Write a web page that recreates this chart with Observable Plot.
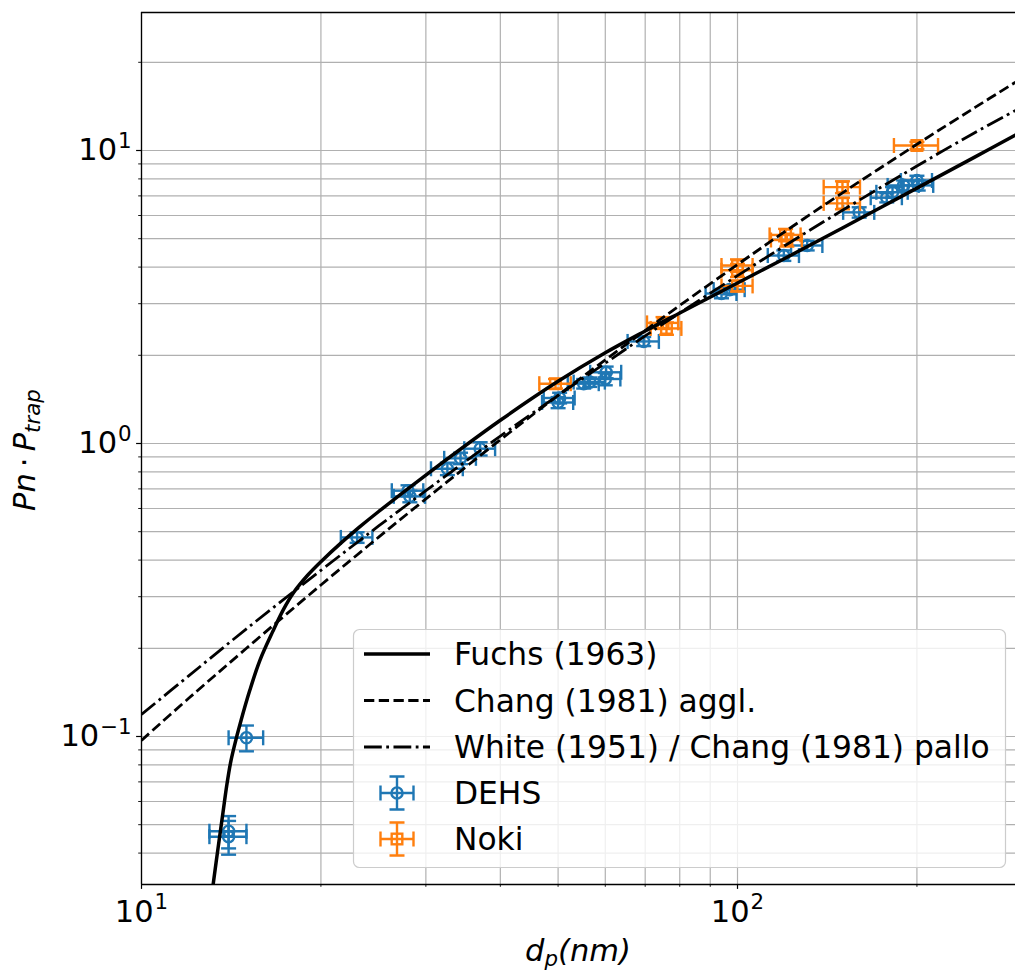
<!DOCTYPE html>
<html>
<head>
<meta charset="utf-8">
<script src="https://cdn.jsdelivr.net/npm/d3@7"></script>
<script src="https://cdn.jsdelivr.net/npm/@observablehq/plot@0.6"></script>
<style>
  html, body { margin: 0; padding: 0; background: #fff; }
  #chart svg { display: block; }
</style>
</head>
<body>
<div id="chart"></div>
<script>
// ---- Measurements: DEHS droplets (diameter nm, Pn·Ptrap, and their errors) ----
const dehsDiameter    = [15.0, 14.0, 14.0, 23.0, 28.0, 28.2, 32.6, 34.3, 37.0, 50.0, 50.3, 55.2, 56.5, 60.0, 60.2, 69.6, 94.0, 97.0, 119.6, 130.9, 160, 178, 182, 190, 200, 201];
const dehsValue       = [0.099, 0.0475, 0.0455, 0.478, 0.69, 0.66, 0.82, 0.89, 0.96, 1.38, 1.43, 1.60, 1.62, 1.66, 1.75, 2.23, 3.25, 3.35, 4.38, 4.74, 6.15, 6.9, 7.2, 7.6, 7.9, 7.6];
const dehsDiameterErr = [1.0, 1.0, 1.0, 1.4, 1.7, 1.7, 2.0, 2.1, 2.2, 3.0, 3.0, 3.3, 3.4, 3.6, 3.6, 4.2, 5.6, 5.8, 7.2, 7.9, 9.6, 10.7, 11, 11.4, 12, 12];
const dehsValueErr    = [0.010, 0.006, 0.006, 0.02, 0.03, 0.03, 0.04, 0.04, 0.05, 0.06, 0.06, 0.06, 0.06, 0.08, 0.08, 0.08, 0.12, 0.12, 0.18, 0.18, 0.25, 0.25, 0.3, 0.3, 0.3, 0.3];

// ---- Measurements: Noki particles ----
const nokiDiameter    = [49.5, 75.0, 76.0, 100, 100, 100, 120.4, 121, 150, 150, 200];
const nokiValue       = [1.60, 2.58, 2.47, 4.05, 3.90, 3.45, 5.15, 4.95, 7.5, 6.6, 10.4];
const nokiDiameterErr = [3.0, 4.5, 4.5, 6, 6, 6, 7.2, 7.2, 10.5, 10.5, 17];
const nokiValueErr    = [0.06, 0.12, 0.12, 0.2, 0.2, 0.15, 0.25, 0.25, 0.35, 0.3, 0.3];

// ---- Model curves ----
const fuchsDiameter = [13.19, 13.45, 13.7, 13.9, 14.1, 14.3, 14.7, 15.2, 15.8, 16.6, 17.3, 18.0, 19.0, 20.0, 21.6, 23.2, 25, 30, 40, 50, 60, 70, 80, 100, 120, 150, 200, 250, 292.7];
const fuchsValue    = [0.0313, 0.042, 0.055, 0.068, 0.081, 0.092, 0.114, 0.144, 0.182, 0.228, 0.271, 0.310, 0.355, 0.395, 0.457, 0.518, 0.586, 0.780, 1.20, 1.63, 2.04, 2.42, 2.79, 3.53, 4.28, 5.44, 7.44, 9.49, 11.3];

const modelDiameter = [10, 12, 15, 20, 25, 30, 40, 50, 60, 70, 80, 100, 120, 150, 200, 250, 292.7];
const changValue    = [0.097, 0.135, 0.200, 0.329, 0.479, 0.647, 1.03, 1.46, 1.93, 2.43, 2.96, 4.08, 5.28, 7.17, 10.5, 14.0, 17.1];
const whiteValue    = [0.119, 0.161, 0.233, 0.369, 0.523, 0.690, 1.06, 1.46, 1.88, 2.33, 2.79, 3.74, 4.73, 6.25, 8.85, 11.5, 13.7];

// ---- Axes: tick values and labels ----
const xMajorTicks = [10, 100];
const xMajorExp   = ["1", "2"];
const xMinorTicks = [20, 30, 40, 50, 60, 70, 80, 90, 200];
const yMajorTicks = [0.1, 1, 10];
const yMajorExp   = ["\u22121", "0", "1"];
const yMinorTicks = [0.04, 0.05, 0.06, 0.07, 0.08, 0.09, 0.2, 0.3, 0.4, 0.5, 0.6, 0.7, 0.8, 0.9, 2, 3, 4, 5, 6, 7, 8, 9, 20];

const legendLabels = ["Fuchs (1963)", "Chang (1981) aggl.", "White (1951) / Chang (1981) pallo", "DEHS", "Noki"];

// ---- Build tables ----
const zipSeries = (d, v, de, ve) => d.map((x, i) => ({d: x, v: v[i], de: de[i], ve: ve[i]}));
const dehs = zipSeries(dehsDiameter, dehsValue, dehsDiameterErr, dehsValueErr);
const noki = zipSeries(nokiDiameter, nokiValue, nokiDiameterErr, nokiValueErr);
const fuchs = fuchsDiameter.map((d, i) => ({d, v: fuchsValue[i]}));
const chang = modelDiameter.map((d, i) => ({d, v: changValue[i]}));
const white = modelDiameter.map((d, i) => ({d, v: whiteValue[i]}));

const BLUE = "#1f77b4", ORANGE = "#ff7f0e";
const FS = 30.5;
const LEGEND_FS = 31.3;
const xDomain = [10, 292.7];
const yDomain = [0.03125, 29.58];

// Error-bar caps as custom symbols (half length = r)
const capV = {draw(ctx, size) { const r = Math.sqrt(size / Math.PI); ctx.moveTo(0, -r); ctx.lineTo(0, r); }};
const capH = {draw(ctx, size) { const r = Math.sqrt(size / Math.PI); ctx.moveTo(-r, 0); ctx.lineTo(r, 0); }};

function errorbarMarks(rows, color, marker, markerR) {
  const lw = 2.4, cap = 7.5;
  return [
    Plot.ruleY(rows, {y: "v", x1: r => r.d - r.de, x2: r => r.d + r.de, stroke: color, strokeWidth: lw}),
    Plot.ruleX(rows, {x: "d", y1: r => r.v - r.ve, y2: r => r.v + r.ve, stroke: color, strokeWidth: lw}),
    Plot.dot(rows, {x: r => r.d - r.de, y: "v", symbol: capV, r: cap, stroke: color, strokeWidth: lw, fill: "none"}),
    Plot.dot(rows, {x: r => r.d + r.de, y: "v", symbol: capV, r: cap, stroke: color, strokeWidth: lw, fill: "none"}),
    Plot.dot(rows, {x: "d", y: r => r.v - r.ve, symbol: capH, r: cap, stroke: color, strokeWidth: lw, fill: "none"}),
    Plot.dot(rows, {x: "d", y: r => r.v + r.ve, symbol: capH, r: cap, stroke: color, strokeWidth: lw, fill: "none"}),
    Plot.dot(rows, {x: "d", y: "v", symbol: marker, r: markerR, stroke: color, strokeWidth: lw, fill: "none"})
  ];
}

const plot = Plot.plot({
  width: 1015,
  height: 972,
  marginLeft: 141,
  marginRight: 0,
  marginTop: 12,
  marginBottom: 88,
  style: {background: "#fff", fontFamily: "'DejaVu Sans', sans-serif", fontSize: FS + "px", overflow: "visible"},
  x: {type: "log", domain: xDomain},
  y: {type: "log", domain: yDomain},
  marks: [
    Plot.gridX([...xMajorTicks, ...xMinorTicks], {stroke: "#b0b0b0", strokeOpacity: 1, strokeWidth: 1.2}),
    Plot.gridY([...yMajorTicks, ...yMinorTicks], {stroke: "#b0b0b0", strokeOpacity: 1, strokeWidth: 1.2}),

    ...errorbarMarks(dehs, BLUE, "circle", 5.6),
    ...errorbarMarks(noki, ORANGE, "square", 6.0),

    Plot.line(fuchs, {x: "d", y: "v", curve: "catmull-rom", stroke: "black", strokeWidth: 3.5, clip: true}),
    Plot.line(chang, {x: "d", y: "v", curve: "catmull-rom", stroke: "black", strokeWidth: 2.8,
      strokeDasharray: "10.3,4.45", strokeLinecap: "butt", clip: true}),
    Plot.line(white, {x: "d", y: "v", curve: "catmull-rom", stroke: "black", strokeWidth: 2.8,
      strokeDasharray: "17.8,4.45,2.78,4.45", strokeLinecap: "butt", clip: true}),

    // spines
    Plot.ruleX([xDomain[0]], {stroke: "black", strokeWidth: 1.3}),
    Plot.ruleY(yDomain, {stroke: "black", strokeWidth: 1.3}),

    // ticks
    Plot.axisX(xMinorTicks, {tickSize: 2.8, tickFormat: () => "", strokeWidth: 0.9, label: null}),
    Plot.axisX(xMajorTicks, {tickSize: 4.9, tickFormat: () => "", strokeWidth: 1.2, label: null}),
    Plot.axisY(yMinorTicks, {tickSize: 2.8, tickFormat: () => "", strokeWidth: 0.9, label: null}),
    Plot.axisY(yMajorTicks, {tickSize: 4.9, tickFormat: () => "", strokeWidth: 1.2, label: null}),

    // tick labels (exponents added below as superscripts)
    Plot.text(xMajorTicks, {x: d => d, frameAnchor: "bottom", dy: 27.7, text: () => "10",
      fontSize: FS, lineAnchor: "middle", textAnchor: "middle", fill: "black", className: "xtick-lbl"}),
    Plot.text(yMajorTicks, {y: d => d, frameAnchor: "left", dx: -9.8, text: () => "10",
      fontSize: FS, lineAnchor: "middle", textAnchor: "end", fill: "black", className: "ytick-lbl"})
  ]
});

document.getElementById("chart").appendChild(plot);
const svg = d3.select(plot);

// superscript exponents on the tick labels
function addExponents(selector, exps) {
  svg.selectAll(selector + " text").each(function(_, i) {
    d3.select(this).append("tspan")
      .attr("dx", 1)
      .attr("dy", -12.5)
      .attr("font-size", FS * 0.7)
      .text(exps[i]);
  });
}
addExponents(".xtick-lbl", xMajorExp);
addExponents(".ytick-lbl", yMajorExp);

// axis titles
const yTitle = svg.append("text")
  .attr("transform", "translate(35,450) rotate(-90)")
  .attr("text-anchor", "middle")
  .attr("font-family", "'DejaVu Sans', sans-serif")
  .attr("font-style", "italic")
  .attr("font-size", FS)
  .attr("fill", "black");
yTitle.append("tspan").text("Pn\u2009\u22C5\u2009P");
yTitle.append("tspan").attr("dy", 5).attr("font-size", FS * 0.7).text("trap");

const xTitle = svg.append("text")
  .attr("x", 578).attr("y", 961)
  .attr("text-anchor", "middle")
  .attr("font-family", "'DejaVu Sans', sans-serif")
  .attr("font-style", "italic")
  .attr("font-size", FS)
  .attr("fill", "black");
xTitle.append("tspan").text("d");
xTitle.append("tspan").attr("dy", 5).attr("font-size", FS * 0.7).text("p");
xTitle.append("tspan").attr("dy", -5).text("(nm)");

// legend
const lg = svg.append("g")
  .attr("font-family", "'DejaVu Sans', sans-serif")
  .attr("font-size", LEGEND_FS)
  .attr("text-anchor", "start");
lg.append("rect")
  .attr("x", 353.5).attr("y", 629.5).attr("width", 652).attr("height", 238).attr("rx", 6)
  .attr("fill", "white").attr("fill-opacity", 0.8)
  .attr("stroke", "#cccccc").attr("stroke-width", 1.2);

const rowY = [654, 700.5, 747, 793, 839];
const hx0 = 364, hx1 = 430, hxc = 397, textX = 454;
const lineStyles = [
  {w: 3.5, dash: null},
  {w: 2.8, dash: "10.3,4.45"},
  {w: 2.8, dash: "17.8,4.45,2.78,4.45"}
];
lineStyles.forEach((s, i) => {
  const l = lg.append("line")
    .attr("x1", hx0).attr("x2", hx1).attr("y1", rowY[i]).attr("y2", rowY[i])
    .attr("stroke", "black").attr("stroke-width", s.w);
  if (s.dash) l.attr("stroke-dasharray", s.dash).attr("stroke-linecap", "butt");
});

function legendErrorbar(cy, color, marker) {
  const g = lg.append("g").attr("stroke", color).attr("stroke-width", 2.4).attr("fill", "none");
  const e = 16.5, c = 7.5;
  g.append("path").attr("d",
    `M${hxc - e},${cy}H${hxc + e}M${hxc},${cy - e}V${cy + e}` +
    `M${hxc - e},${cy - c}V${cy + c}M${hxc + e},${cy - c}V${cy + c}` +
    `M${hxc - c},${cy - e}H${hxc + c}M${hxc - c},${cy + e}H${hxc + c}`);
  if (marker === "circle") g.append("circle").attr("cx", hxc).attr("cy", cy).attr("r", 5.6);
  else g.append("rect").attr("x", hxc - 5.3).attr("y", cy - 5.3).attr("width", 10.6).attr("height", 10.6);
}
legendErrorbar(rowY[3], BLUE, "circle");
legendErrorbar(rowY[4], ORANGE, "square");

legendLabels.forEach((t, i) => {
  lg.append("text").attr("x", textX).attr("y", rowY[i] + 11).attr("fill", "black")
    .attr("text-anchor", "start").text(t);
});
</script>
</body>
</html>
